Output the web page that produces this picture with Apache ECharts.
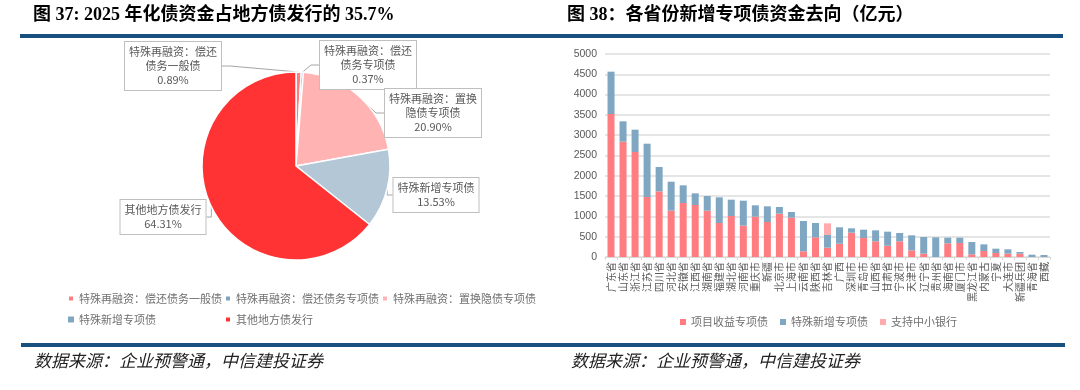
<!DOCTYPE html>
<html><head><meta charset="utf-8">
<script src="https://cdn.jsdelivr.net/npm/echarts@6/dist/echarts.min.js"></script>
<style>html,body{margin:0;padding:0;background:#fff}#c{width:1080px;height:390px}</style>
</head><body><div id="c"></div>
<script>
// ---------- data ----------
const pieNames = ['特殊再融资：偿还债务一般债','特殊再融资：偿还债务专项债','特殊再融资：置换隐债专项债','特殊新增专项债','其他地方债发行'];
const pieLabelNames = ['特殊再融资：偿还\n债务一般债','特殊再融资：偿还\n债务专项债','特殊再融资：置换\n隐债专项债','特殊新增专项债','其他地方债发行'];
const pieValues = [0.89, 0.37, 20.90, 13.53, 64.31];

const provinces = ['广东省','山东省','浙江省','江苏省','四川省','河北省','安徽省','江西省','湖南省','福建省','湖北省','河南省','重庆市','新疆','北京市','上海市','云南省','陕西省','吉林省','广西','深圳市','青岛市','山西省','甘肃省','宁波市','天津市','辽宁省','贵州省','海南省','厦门市','黑龙江省','内蒙古','宁夏','大连市','新疆兵团','青海省','西藏'];
const projectRevenue = [3522,2841,2586,1478,1617,1141,1330,1281,1141,837,1010,772,993,862,1067,969,140,484,230,328,599,468,386,279,386,164,82,0,337,345,66,148,99,82,82,0,0];
const specialNew =     [1043,501,550,1313,600,714,435,287,361,633,402,615,280,386,165,139,747,353,312,403,107,205,271,345,205,370,411,484,139,131,303,164,106,107,41,57,49];
const smallBank =      [0,0,0,0,0,0,0,0,0,0,0,0,0,0,0,0,0,0,287,0,0,0,0,0,0,0,0,0,0,0,0,0,0,0,0,0,0];
const barSeriesNames = ['项目收益专项债','特殊新增专项债','支持中小银行'];
const yMin = 0, yMax = 5000, yStep = 500;

const titleLeft = '图 37: 2025 年化债资金占地方债发行的 35.7%';
const titleRight = '图 38：各省份新增专项债资金去向（亿元）';
const sourceText = '数据来源：企业预警通，中信建投证券';

// ---------- chart ----------
const pieColors = ['#FF7C80','#7FA3BE','#FFB3B3','#B4C7D7','#FF3333'];
const barColors = ['#FF7C80','#7FA7C1','#FFABAD'];
const labelCenters = [[173,66],[368,65],[433,113],[436,195],[163,217]];

const chart = echarts.init(document.getElementById('c'), null, {renderer:'canvas'});
const titleFont = "'Liberation Serif','Noto Sans CJK SC',serif";
const cjk = "'Noto Sans CJK SC','Liberation Serif',sans-serif";

const option = {
  animation: false,
  backgroundColor: '#fff',
  title: [
    {text: titleLeft, left: 33, top: 6, padding: 0, textStyle:{fontSize:18, fontWeight:'bold', color:'#000', fontFamily:titleFont}},
    {text: titleRight, left: 567, top: 6, padding: 0, textStyle:{fontSize:18, fontWeight:'bold', color:'#000', fontFamily:titleFont}},
    {text: sourceText, left: 34, top: 352, padding: 0, textStyle:{fontSize:17, fontWeight:'normal', fontStyle:'italic', color:'#222', fontFamily:cjk}},
    {text: sourceText, left: 571, top: 352, padding: 0, textStyle:{fontSize:17, fontWeight:'normal', fontStyle:'italic', color:'#222', fontFamily:cjk}}
  ],
  graphic: [
    {type:'rect', shape:{x:20, y:34, width:1043, height:4}, style:{fill:'#17507F'}, silent:true},
    {type:'rect', shape:{x:21, y:343, width:1044, height:4}, style:{fill:'#17507F'}, silent:true}
  ],
  legend: [
    {data: pieNames, left: 67, top: 289, width: 520, padding: 0, itemWidth: 6, itemHeight: 6, itemGap: 2, icon:'rect',
     textStyle:{fontSize:11, color:'#707070', width:143, lineHeight:19, fontFamily:cjk}},
    {data: barSeriesNames, left: 680, top: 316, padding: 0, itemWidth: 6, itemHeight: 6, itemGap: 12, icon:'rect',
     textStyle:{fontSize:11, color:'#707070', width:77, lineHeight:12, fontFamily:cjk}}
  ],
  grid: {left: 605, right: 30, top: 54, bottom: 133, containLabel: false},
  xAxis: {
    type: 'category', data: provinces,
    axisLine: {lineStyle:{color:'#D9D9D9'}},
    axisTick: {show:true, length:3, lineStyle:{color:'#D9D9D9'}},
    axisLabel: {interval:0, rotate:90, fontSize:10, color:'#595959', margin:5, fontFamily:cjk}
  },
  yAxis: {
    type: 'value', min: yMin, max: yMax, interval: yStep,
    axisLine:{show:false}, axisTick:{show:false},
    splitLine:{lineStyle:{color:'#DCDCDC', width:1.5}},
    axisLabel:{fontSize:10.5, color:'#595959', margin:8, fontFamily:"'Liberation Sans',sans-serif",
      formatter: v => String(v)}
  },
  series: [
    {
      type: 'pie', center: [296, 166], radius: 94, startAngle: 90, clockwise: true,
      avoidLabelOverlap: false,
      itemStyle: {borderColor:'#fff', borderWidth:1.5},
      data: pieNames.map((n,i)=>({name:n, value:pieValues[i], itemStyle:{color:pieColors[i]},
        label:{formatter: pieLabelNames[i] + '\n' + pieValues[i].toFixed(2) + '%'}})),
      label: {show:true, position:'outside', fontSize:11, lineHeight:14, color:'#595959', align:'center',
        backgroundColor:'#fff', borderColor:'#BFBFBF', borderWidth:1, padding:[3,4], fontFamily:cjk},
      labelLine: {show:true, length:8, length2:8, lineStyle:{color:'#A6A6A6', width:1}},
      labelLayout: function(p){
        const c = labelCenters[p.dataIndex];
        return {x:c[0], y:c[1], align:'center', verticalAlign:'middle'};
      }
    },
    {name: barSeriesNames[0], type:'bar', stack:'s', barWidth:7, data: projectRevenue, itemStyle:{color:barColors[0]}},
    {name: barSeriesNames[1], type:'bar', stack:'s', barWidth:7, data: specialNew, itemStyle:{color:barColors[1]}},
    {name: barSeriesNames[2], type:'bar', stack:'s', barWidth:7, data: smallBank, itemStyle:{color:barColors[2]}}
  ]
};
chart.setOption(option);
</script>
</body></html>
